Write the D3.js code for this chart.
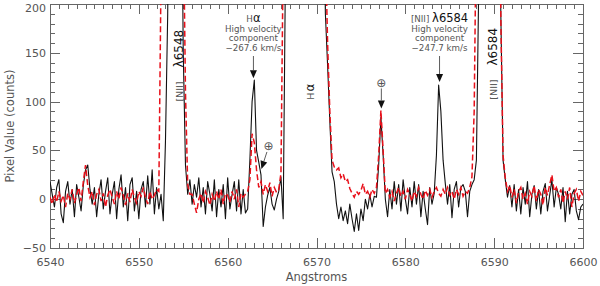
<!DOCTYPE html>
<html>
<head>
<meta charset="utf-8">
<script src="https://cdn.jsdelivr.net/npm/d3@7"></script>
<style>
    body { margin: 0; background: #fff; }
    svg { display: block; font-family: "DejaVu Sans", sans-serif; }
</style>
</head>
<body>
<div id="chart"></div>
<script>
'use strict';

var svgWidth = 600, svgHeight = 286,
    plotLeft = 50, plotRight = 583, plotTop = 4, plotBottom = 248;

// spectra are sampled every 0.25 A starting at 6540 A
var lambdaStart = 6540, lambdaStep = 0.25;

var xMajorTicks = [6540, 6550, 6560, 6570, 6580, 6590, 6600];
var yMajorTicks = [-50, 0, 50, 100, 150, 200];

// black spectrum, counts (one row per Angstrom)
var observedCounts = [
    18, 5, -8, 12,        // 6540
    20, -15, -24, 8,
    18, -5, 10, -18,
    15, 2, -12, 14,
    30, 35, 10, -5,
    12, -18, 5, 20,       // 6545
    -10, 8, 22, -15,
    5, 18, -20, 10,
    25, -8, 12, -22,
    15, 22, -12, 8,
    -20, 10, 18, -8,      // 6550
    24, -5, 30, -15,
    12, -10, 5, -22,
    60, 190, 450, 800,
    950, 900, 700, 400,
    150, 35, 5, 20,       // 6555
    -5, 15, 2, 22,
    -8, 12, -15, 18,
    5, -12, 20, -18,
    10, -8, 15, -20,
    22, -10, 5, 18,       // 6560
    -12, 20, -15, 10,
    -14, -10, 40, 100,
    122, 50, 38, 25,
    -28, -8, 4, 12,
    -5, -11, 0, 8,        // 6565
    23, -20, 230, 600,
    900, 1200, 1500, 1800,
    2000, 2100, 2100, 2000,
    1800, 1500, 1200, 900,
    700, 550, 420, 330,   // 6570
    190, 137, 80, 28,
    18, -5, -20, -8,
    -22, -12, -25, -5,
    -20, -33, -15, -32,
    -10, -22, 0, -10,     // 6575
    5, -8, 3, 2,
    35, 84, 45, 0,
    -18, 10, -10, 18,
    -5, 15, -12, 20,
    0, -15, 12, -8,       // 6580
    18, -5, 15, -18,
    8, -10, -26, 12,
    -5, 6, 45, 117,
    90, 40, 16, -5,
    15, -19, 10, 18,      // 6585
    -8, 12, 15, 8,
    -18, 8, 15, 20,
    40, 210, 600, 900,
    1100, 1200, 1100, 900,
    750, 600, 500, 190,   // 6590
    40, 20, 2, 14,
    -8, 15, -12, 10,
    -15, 12, -5, 18,
    -18, 5, 14, -10,
    10, -15, 8, 16,       // 6595
    -12, 4, 20, -8,
    12, 5, -10, 12,
    -23, 8, -15, 5,
    10, -12, -21, -8,
    -5                    // 6600
];

// red dashed spectrum, counts
var comparisonCounts = [
    2, -5, 5, -3,         // 6540
    8, -2, 4, -8,
    6, 0, 10, -4,
    5, 12, -2, 18,
    35, 14, 2, 8,
    -6, 5, 10, -2,        // 6545
    6, -8, 4, 10,
    2, -5, 8, 0,
    12, 4, -6, 6,
    -3, 10, 2, -4,
    8, 3, 12, 2,          // 6550
    -5, 8, 0, 4,
    10, 8, 230, 600,
    900, 1100, 1200, 1100,
    1000, 850, 700, 500,
    300, 110, 15, 5,      // 6555
    5, -5, -14, 0,
    6, -4, 8, 2,
    -6, 5, -2, 8,
    0, 10, -5, 6,
    4, -3, 8, 0,          // 6560
    10, -8, 6, 2,
    5, 8, 20, 67,
    58, 30, 12, 18,
    5, 15, 8, 17,
    3, 12, 7, 10,         // 6565
    27, 250, 700, 1000,
    1300, 1600, 1900, 2100,
    2200, 2300, 2300, 2200,
    2000, 1800, 1500, 1200,
    950, 700, 520, 380,   // 6570
    260, 160, 90, 40,
    33, 30, 32, 22,
    26, 18, 20, 11,
    6, 2, 8, 5,
    9, 16, 5, 8,          // 6575
    2, 10, 6, 12,
    45, 91, 50, 6,
    10, 2, 8, -2,
    6, 12, 3, 8,
    0, 10, 5, -2,         // 6580
    8, 3, 12, 5,
    0, 9, 4, 10,
    2, 8, 12, 6,
    3, 10, 5, 12,
    4, 8, 0, 10,          // 6585
    5, 12, 3, 8,
    6, 12, 23, 90,
    300, 700, 1000, 1200,
    1300, 1300, 1200, 1000,
    900, 700, 520, 185,   // 6590
    45, 22, 8, 14,
    2, 10, -4, 8,
    12, 0, 6, -5,
    8, 3, 14, -2,
    10, 5, -6, 12,        // 6595
    4, 15, 25, 8,
    12, 2, 10, -4,
    8, 0, 12, -8,
    6, 10, -2, 8,
    4                     // 6600
];

// high velocity component labels: text lines, arrow target (A, counts)
var hvLabels = [
    {lines: [[['H'], ['\u03b1', true]], [['High velocity']], [['component']], [['\u2212267.6 km/s']]],
        lambda: 6562.9, counts: 124},
    {lines: [[['[NII] '], ['\u03bb6584', true]], [['High velocity']], [['component']], [['\u2212247.7 km/s']]],
        lambda: 6583.85, counts: 120}
];

// telluric marks: arrow target (A, counts)
var telluricMarks = [
    {lambda: 6577.3, counts: 93, fromDx: 0, fromDy: -20},
    {lambda: 6563.8, counts: 31, fromDx: 5.5, fromDy: -17}
];

// rotated line identifications: text, start point (A, counts)
var lineLabels = [
    {parts: [['[NII]'], ['\u03bb6548', true]], lambda: 6554.3, counts: 100},
    {parts: [['H'], ['\u03b1', true]], lambda: 6569.1, counts: 102},
    {parts: [['[NII]'], ['\u03bb6584', true]], lambda: 6589.7, counts: 102}
];

var x = d3.scaleLinear().domain([6540, 6600]).range([plotLeft, plotRight]);
var y = d3.scaleLinear().domain([-50, 200]).range([plotBottom, plotTop]);

var svg = d3.select('#chart')
    .append('svg')
    .attr('width', svgWidth)
    .attr('height', svgHeight);

svg.append('defs').append('clipPath')
    .attr('id', 'plot-clip')
    .append('rect')
    .attr('x', plotLeft)
    .attr('y', plotTop)
    .attr('width', plotRight - plotLeft)
    .attr('height', plotBottom - plotTop);

drawAxes();
drawSpectra();
drawAnnotations();

function drawAxes() {
    var axisColor = '#666';
    var xMinor = d3.range(6540, 6601, 1);
    var yMinor = d3.range(-50, 201, 10);

    var axes = [
        {axis: d3.axisBottom(x).tickValues(xMinor).tickSize(-5), at: [0, plotBottom]},
        {axis: d3.axisBottom(x).tickValues(xMajorTicks).tickSize(-10).tickPadding(10), at: [0, plotBottom], labels: true},
        {axis: d3.axisTop(x).tickValues(xMinor).tickSize(-5), at: [0, plotTop]},
        {axis: d3.axisTop(x).tickValues(xMajorTicks).tickSize(-10), at: [0, plotTop]},
        {axis: d3.axisLeft(y).tickValues(yMinor).tickSize(-5), at: [plotLeft, 0]},
        {axis: d3.axisLeft(y).tickValues(yMajorTicks).tickSize(-10).tickPadding(4), at: [plotLeft, 0], labels: true},
        {axis: d3.axisRight(y).tickValues(yMinor).tickSize(-5), at: [plotRight, 0]},
        {axis: d3.axisRight(y).tickValues(yMajorTicks).tickSize(-10), at: [plotRight, 0]}
    ];

    axes.forEach(function (a) {
        a.axis.tickSizeOuter(0);
        if (!a.labels) {
            a.axis.tickFormat('');
        } else {
            a.axis.tickFormat(d3.format('d'));
        }
        var g = svg.append('g')
            .attr('transform', 'translate(' + a.at[0] + ',' + a.at[1] + ')')
            .call(a.axis);
        g.selectAll('path, line')
            .attr('stroke', axisColor)
            .attr('shape-rendering', 'crispEdges');
        g.selectAll('text')
            .attr('fill', '#555')
            .style('font-size', '11px')
            .style('font-family', '"DejaVu Sans", sans-serif');
    });

    // the top label sits a little below its tick in the original
    svg.selectAll('text').filter(function (d) {
        return d === 200;
    }).attr('y', 4);

    svg.append('text')
        .attr('x', (plotLeft + plotRight) / 2)
        .attr('y', 281)
        .attr('text-anchor', 'middle')
        .attr('fill', '#555')
        .style('font-size', '11.5px')
        .text('Angstroms');

    svg.append('text')
        .attr('transform', 'translate(14,' + (plotTop + plotBottom) / 2 + ') rotate(-90)')
        .attr('text-anchor', 'middle')
        .attr('fill', '#555')
        .style('font-size', '11.5px')
        .text('Pixel Value (counts)');
}

function drawSpectra() {
    var line = d3.line()
        .x(function (d, i) {
            return x(lambdaStart + i * lambdaStep);
        })
        .y(function (d) {
            return y(d);
        });

    var g = svg.append('g').attr('clip-path', 'url(#plot-clip)');

    g.append('path')
        .datum(observedCounts)
        .attr('d', line)
        .attr('fill', 'none')
        .attr('stroke', '#111')
        .attr('stroke-width', 1.1)
        .attr('stroke-linejoin', 'round');

    g.append('path')
        .datum(comparisonCounts)
        .attr('d', line)
        .attr('fill', 'none')
        .attr('stroke', '#e8101a')
        .attr('stroke-width', 1.5)
        .attr('stroke-dasharray', '6,3');
}

function drawArrow(x1, y1, x2, y2) {
    var ang = Math.atan2(y2 - y1, x2 - x1),
        len = 8, half = 3.5;
    var bx = x2 - len * Math.cos(ang), by = y2 - len * Math.sin(ang);
    svg.append('line')
        .attr('x1', x1).attr('y1', y1)
        .attr('x2', bx).attr('y2', by)
        .attr('stroke', '#333')
        .attr('stroke-width', 0.8);
    svg.append('path')
        .attr('d', 'M' + x2 + ',' + y2 +
            'L' + (bx + half * Math.sin(ang)) + ',' + (by - half * Math.cos(ang)) +
            'L' + (bx - half * Math.sin(ang)) + ',' + (by + half * Math.cos(ang)) + 'Z')
        .attr('fill', '#111');
}

function appendParts(text, parts, baseSize, strongSize) {
    parts.forEach(function (p) {
        text.append('tspan')
            .attr('fill', p[1] ? '#111' : '#555')
            .style('font-size', (p[1] ? strongSize : baseSize) + 'px')
            .text(p[0]);
    });
}

function drawAnnotations() {
    hvLabels.forEach(function (d) {
        var cx = x(d.lambda);
        d.lines.forEach(function (parts, i) {
            var t = svg.append('text')
                .attr('x', cx)
                .attr('y', 22 + i * 9.7)
                .attr('text-anchor', 'middle');
            appendParts(t, parts, 8.7, 11.5);
        });
        drawArrow(cx, 56, cx, y(d.counts));
    });

    telluricMarks.forEach(function (d) {
        var tx = x(d.lambda), ty = y(d.counts);
        var fx = tx + d.fromDx, fy = ty + d.fromDy;
        drawArrow(fx, fy, tx, ty);
        svg.append('text')
            .attr('x', fx + d.fromDx * 0.3)
            .attr('y', fy - 1.5)
            .attr('text-anchor', 'middle')
            .attr('fill', '#555')
            .style('font-size', '12px')
            .text('\u2295');
    });

    lineLabels.forEach(function (d) {
        var t = svg.append('text')
            .attr('transform', 'translate(' + x(d.lambda) + ',' + y(d.counts) + ') rotate(-90)')
            .attr('dy', '0.36em');
        t.append('tspan')
            .attr('fill', '#555')
            .style('font-size', '9.5px')
            .text(d.parts[0][0]);
        t.append('tspan')
            .attr('dx', d.parts[0][0].length > 1 ? 14 : 1)
            .attr('fill', '#111')
            .style('font-size', '12px')
            .text(d.parts[1][0]);
    });
}
</script>
</body>
</html>
